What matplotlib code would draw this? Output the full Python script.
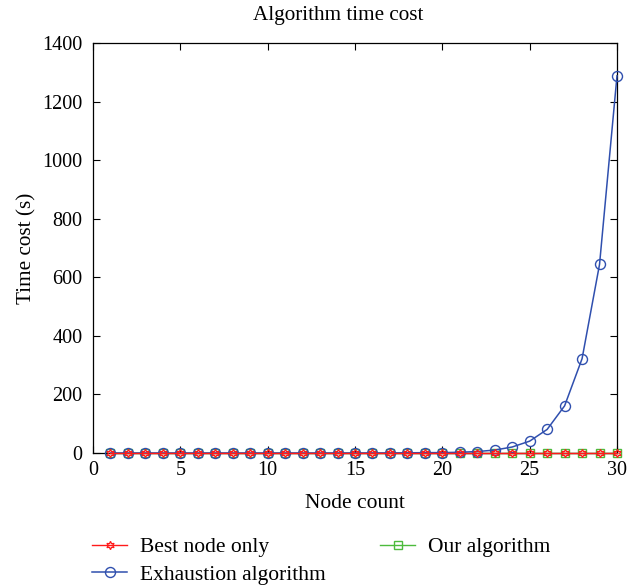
import matplotlib
matplotlib.use("Agg")
import matplotlib.pyplot as plt
import numpy as np

plt.rcParams['font.family'] = ['Liberation Serif', 'DejaVu Serif']

node_count = list(range(1, 31))
best_node_only = [0.0] * 30
our_algorithm = [0.3] * 30
exhaustion = [0.0, 0.0, 0.0, 0.0, 0.0, 0.0, 0.0, 0.0, 0.0, 0.0,
              0.0, 0.0, 0.0, 0.1, 0.1, 0.2, 0.3, 0.6, 1.2, 1.3,
              2.5, 5.0, 10.0, 20.5, 40.5, 80.5, 161.0, 322.0, 644.0, 1288.0]

W, H = 641, 587
fig = plt.figure(figsize=(W / 100, H / 100), dpi=100)
ax = fig.add_axes([93 / W, 1 - 453 / H, 524 / W, 410 / H])

ax.plot(node_count, our_algorithm, color='#4cbb3c', lw=1.0, marker='s',
        markersize=6, markerfacecolor='none', markeredgewidth=1.0,
        label='Our algorithm', zorder=2, clip_on=False)
ax.plot(node_count, exhaustion, color='#2f4fae', lw=1.1, marker='o',
        markersize=7.2, markerfacecolor='none', markeredgewidth=1.0,
        label='Exhaustion algorithm', zorder=3, clip_on=False)
ax.plot(node_count, best_node_only, color='#ff1a1a', lw=1.0, marker=(6, 1, 0),
        markersize=6, markerfacecolor='none', markeredgewidth=0.9,
        label='Best node only', zorder=4, clip_on=False)

ax.set_xlim(0, 30)
ax.set_ylim(0, 1400)
ax.set_xticks([0, 5, 10, 15, 20, 25, 30])
ax.set_yticks([0, 200, 400, 600, 800, 1000, 1200, 1400])
ax.tick_params(direction='in', top=True, right=True, labelsize=14.5,
               length=5, width=0.8)
ax.tick_params(axis='y', pad=7.5)
ax.tick_params(axis='x', pad=6)
for s in ax.spines.values():
    s.set_linewidth(0.9)

fig.text(338 / W, 1 - 20 / H, 'Algorithm time cost', fontsize=15.2,
         ha='center', va='baseline')
ax.set_xlabel('Node count', fontsize=15.5, labelpad=10)
ax.set_ylabel('Time cost (s)', fontsize=15.3, labelpad=4)

h, l = ax.get_legend_handles_labels()
order = [2, 1, 0]
ax.legend([h[i] for i in order], [l[i] for i in order],
          loc='upper left', bbox_to_anchor=(-0.002, -0.205), ncol=2,
          frameon=False, fontsize=15.5, handlelength=1.65,
          columnspacing=2.5, labelspacing=0.36, handletextpad=0.6,
          borderaxespad=0, borderpad=0)

fig.savefig('out.png', dpi=100)
